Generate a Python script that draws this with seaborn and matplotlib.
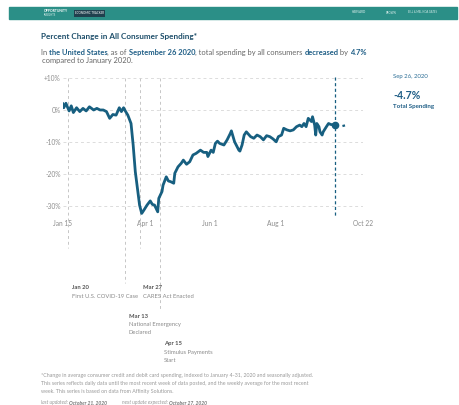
import matplotlib; matplotlib.use('Agg')
import pandas as pd
import numpy as np
import seaborn as sns
import matplotlib.pyplot as plt
import matplotlib.dates as mdates
from matplotlib.patches import Rectangle

sns.set_style('white')
plt.rcParams['font.family'] = ['Lato', 'DejaVu Sans']

# daily consumer spending, % change vs January 2020
dates = ['01-15', '01-16', '01-18', '01-21', '01-23', '01-25', '01-28', '01-31',
         '02-03', '02-06', '02-09', '02-13', '02-16', '02-19', '02-22', '02-25',
         '02-28', '03-02', '03-05', '03-08', '03-10', '03-12', '03-14', '03-16',
         '03-19', '03-21', '03-23', '03-25', '03-27', '03-29', '03-31', '04-03',
         '04-06', '04-08', '04-10', '04-13', '04-14', '04-17', '04-18', '04-21',
         '04-23', '04-25', '04-28', '04-29', '05-02', '05-05', '05-07', '05-10',
         '05-13', '05-16', '05-19', '05-23', '05-26', '05-29', '05-30', '06-02',
         '06-04', '06-06', '06-08', '06-10', '06-14', '06-17', '06-20', '06-21',
         '06-24', '06-28', '06-29', '07-01', '07-03', '07-05', '07-09', '07-12',
         '07-15', '07-18', '07-21', '07-24', '07-27', '07-30', '08-02', '08-04',
         '08-07', '08-09', '08-12', '08-15', '08-18', '08-21', '08-24', '08-26',
         '08-28', '08-30', '09-01', '09-04', '09-05', '09-07', '09-08', '09-09',
         '09-11', '09-12', '09-14', '09-15', '09-18', '09-20', '09-22', '09-26']
spending = [2.1, 0.7, 2.1, -0.3, 1.3, -0.8, 0.7, -0.5,
            0.5, -0.3, 1.0, 0.0, 0.5, 0.0, 0.0, -0.5,
            -2.6, -1.4, -1.6, 0.7, -0.5, 0.7, -0.5, -1.6,
            -4.2, -10.9, -19.2, -24.4, -29.6, -32.2, -31.2, -29.6,
            -28.3, -29.4, -29.6, -31.7, -27.5, -25.4, -23.4, -20.8,
            -22.1, -22.3, -22.8, -19.7, -17.7, -16.6, -15.6, -16.9,
            -16.1, -14.0, -13.5, -12.5, -13.2, -13.2, -14.5, -12.5,
            -13.2, -10.4, -9.7, -10.4, -10.9, -9.3, -7.3, -6.5,
            -9.9, -12.5, -12.8, -10.9, -7.8, -6.8, -8.3, -8.8,
            -7.8, -8.3, -9.3, -8.0, -8.3, -9.0, -9.9, -8.3,
            -7.8, -5.7, -6.2, -6.5, -6.2, -5.2, -4.7, -5.2,
            -4.2, -5.2, -2.6, -3.6, -2.1, -4.7, -7.8, -4.2,
            -5.2, -6.8, -7.8, -6.8, -5.2, -4.2, -4.5, -4.7]

# weekly average after the last daily point
tail_dates = ['09-26', '10-03', '10-09']
tail_values = [-4.7, -5.0, -4.5]

tick_dates = ['01-15', '04-01', '06-01', '08-01', '10-22']
tick_labels = ['Jan 15', 'Apr 1', 'Jun 1', 'Aug 1', 'Oct 22']
y_ticks = [10, 0, -10, -20, -30]
y_labels = ['+10%', '0%', '-10%', '-20%', '-30%']

events = ['01-20', '03-13', '03-27', '04-15']
event_titles = ['Jan 20', 'Mar 13', 'Mar 27', 'Apr 15']
event_texts = [['First U.S. COVID-19 Case'], ['National Emergency', 'Declared'],
               ['CARES Act Enacted'], ['Stimulus Payments', 'Start']]

to_dt = lambda lst: pd.to_datetime(['2020-' + d for d in lst])

W, H = 460, 405
fx = lambda px: px / W
fy = lambda py: 1 - py / H

LINE = '#175f80'
BLUE = '#1f5e86'
GREY = '#666666'

fig = plt.figure(figsize=(4.6, 4.05), dpi=100)
renderer = fig.canvas.get_renderer()

# header band
fig.patches.append(Rectangle((fx(9), fy(19)), fx(457) - fx(9), fy(7) - fy(19),
                             transform=fig.transFigure, color='#2b8f87', zorder=0))
fig.text(fx(44), fy(11.2), 'OPPORTUNITY', fontsize=2.4, fontweight='bold', color='white', va='center')
fig.text(fx(44), fy(14.6), 'INSIGHTS', fontsize=2.0, color='#d8eeea', va='center')
fig.text(fx(75), fy(13.5), 'ECONOMIC TRACKER', fontsize=2.1, color='white', va='center',
         bbox=dict(facecolor='#20404e', edgecolor='none', pad=0.8))
fig.text(fx(352), fy(12), 'HARVARD', fontsize=2.2, color='#e0f0ee', va='center')
fig.text(fx(386), fy(13), 'BROWN', fontsize=2.0, color='#e0f0ee', va='center')
fig.text(fx(408), fy(12), 'BILL & MELINDA GATES', fontsize=1.9, color='#e0f0ee', va='center')

# title and subtitle
fig.text(fx(40.7), fy(36.7), 'Percent Change in All Consumer Spending*', fontsize=5.9,
         fontweight='bold', color='#1d4e6a', va='center')


def text_width(txt, **kw):
    # width in figure fraction, keeping leading/trailing spaces
    a = fig.text(0, 0, 'x' + txt + 'x', **kw)
    b = fig.text(0, 0, 'xx', **kw)
    w = a.get_window_extent(renderer).width - b.get_window_extent(renderer).width
    a.remove()
    b.remove()
    return w / fig.bbox.width


def rich_line(x, y, parts, size, style='normal'):
    for txt, bold, color in parts:
        kw = dict(fontsize=size, fontweight='bold' if bold else 'normal', style=style)
        fig.text(x, y, txt, color=color, va='center', ha='left', **kw)
        x += text_width(txt, **kw)


rich_line(fx(40.7), fy(52.3), [('In ', False, GREY), ('the United States', True, BLUE),
                               (', as of ', False, GREY), ('September 26 2020', True, BLUE),
                               (', total spending by all consumers ', False, GREY),
                               ('decreased', True, BLUE), (' by ', False, GREY),
                               ('4.7%', True, BLUE)], 5.45)
fig.text(fx(42.3), fy(60.5), 'compared to January 2020.', fontsize=5.45, color=GREY, va='center')

# main axes
ax = fig.add_axes([fx(62.7), fy(216), fx(362.7) - fx(62.7), fy(76.9) - fy(216)])
ax.set_facecolor('none')
sns.lineplot(x=to_dt(dates), y=spending, ax=ax, color=LINE, lw=2.0, zorder=5)
ax.plot(to_dt(tail_dates), tail_values, color=LINE, lw=1.6, linestyle=(0, (1.2, 2.2)), zorder=5)
ax.plot(to_dt(['09-26']), [-4.7], 'o', color=LINE, ms=4.5, zorder=6)

ax.set_xlim(to_dt(['01-15'])[0], to_dt(['10-22'])[0])
ax.set_ylim(-33, 10.3)
ax.set_xticks(to_dt(tick_dates))
ax.set_xticklabels(tick_labels)
ax.set_yticks(y_ticks)
ax.set_yticklabels(y_labels)
ax.tick_params(axis='both', length=0, labelsize=4.8, labelcolor='#8c8c8c')
ax.tick_params(axis='x', pad=3)
ax.tick_params(axis='y', pad=1.5)
ax.grid(axis='y', color='#dcdcdc', lw=0.7, linestyle=(0, (3, 3)))
ax.grid(axis='x', visible=False)
for s in ax.spines.values():
    s.set_visible(False)
ax.set_xlabel('')
ax.set_ylabel('')

# event lines running below the axes to their notes
event_ends = [248, 283, 248, 310]
note_tops = [287.7, 316, 287.7, 344]
for d, end, top, head, lines in zip(events, event_ends, note_tops, event_titles, event_texts):
    x = to_dt([d])[0]
    ax.plot([x, x], [10, (110 - end) / 3.21], color='#c6c6c6', lw=0.7,
            linestyle=(0, (3, 3)), clip_on=False, zorder=1)
    ax.annotate(head, xy=(mdates.date2num(x), fy(top)), xycoords=('data', 'figure fraction'),
                xytext=(2.8, 0), textcoords='offset points', fontsize=4.2,
                fontweight='bold', color='#555555', va='center', annotation_clip=False)
    for k, ln in enumerate(lines):
        ax.annotate(ln, xy=(mdates.date2num(x), fy(top + 8.4 * (k + 1))),
                    xycoords=('data', 'figure fraction'), xytext=(2.8, 0),
                    textcoords='offset points', fontsize=4.2, color='#8a8a8a',
                    va='center', annotation_clip=False)

# latest date marker
sep26 = to_dt(['09-26'])[0]
ax.plot([sep26, sep26], [10.3, -33], color=LINE, lw=0.9, linestyle=(0, (2.5, 2)), zorder=4)

# right side summary
fig.text(fx(393.3), fy(76.7), 'Sep 26, 2020', fontsize=4.3, color='#2c6e96', va='center')
fig.text(fx(393.3), fy(95.7), '-4.7%', fontsize=7.6, fontweight='bold', color=BLUE, va='center')
fig.text(fx(393.3), fy(106.7), 'Total Spending', fontsize=4.4, fontweight='bold', color=BLUE, va='center')

# footnote
FOOT = '#9a9a9a'
foot_lines = ['*Change in average consumer credit and debit card spending, indexed to January 4-31, 2020 and seasonally adjusted.',
              'This series reflects daily data until the most recent week of data posted, and the weekly average for the most recent',
              'week. This series is based on data from Affinity Solutions.']
for k, ln in enumerate(foot_lines):
    fig.text(fx(40.7), fy(376 + 7.8 * k), ln, fontsize=3.75, color=FOOT, va='center')
rich_line(fx(40.7), fy(402.3), [('last updated: ', False, FOOT), ('October 21, 2020', True, '#777777')],
          3.6, style='italic')
rich_line(fx(121.7), fy(402.3), [('next update expected: ', False, FOOT), ('October 27, 2020', True, '#777777')],
          3.6, style='italic')

fig.savefig('out.png', dpi=100)
